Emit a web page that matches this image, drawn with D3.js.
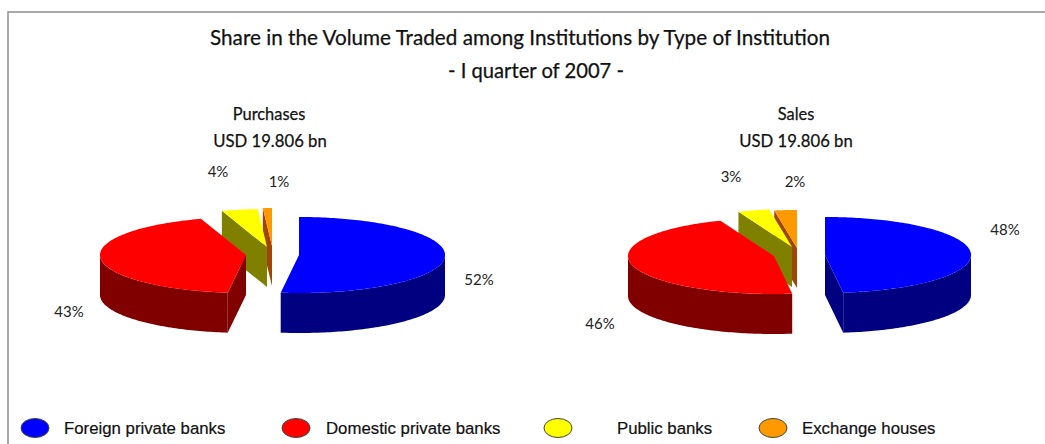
<!DOCTYPE html>
<html>
<head>
<meta charset="utf-8">
<script src="https://cdn.jsdelivr.net/npm/d3@7"></script>
<style>
  html, body { margin: 0; padding: 0; background: #fff; }
  svg { display: block; }
  .head { font-family: Lato, sans-serif; fill: #111; stroke: #111; stroke-width: 0.25px; text-anchor: middle; }
  .pct { font-family: Lato, sans-serif; font-size: 15px; fill: #222; text-anchor: middle; }
  .legend { font-family: "Liberation Sans", Arial, sans-serif; font-size: 16.8px; fill: #111; stroke: #111; stroke-width: 0.2px; }
</style>
</head>
<body>
<div id="chart"></div>
<script>
const categories = ["Foreign private banks", "Domestic private banks", "Public banks", "Exchange houses"]
const purchases = [52, 43, 4, 1]
// the sales labels add up to 99, so the small slices carry the leftover
const sales = [48.01, 46.01, 3.49, 2.49]
const colors = ["#0000ff", "#ff0000", "#ffff00", "#ff9900"]
const sideColors = ["#000080", "#800000", "#808000", "#a0450a"]

const width = 1045
const height = 444
const rx = 146
const ry = 38
const depth = 40

const svg = d3.select("#chart").append("svg")
  .attr("width", width)
  .attr("height", height)

// Frame, only top and left sides show
svg.append("path")
  .attr("d", "M8,444V12H1045")
  .attr("fill", "none")
  .attr("stroke", "#8c8c8c")
  .attr("stroke-width", 1.5)

function addHead(text, x, y, size) {
  svg.append("text").attr("class", "head")
    .attr("x", x).attr("y", y)
    .attr("font-size", size)
    .text(text)
}

addHead("Share in the Volume Traded among Institutions by Type of Institution", 520, 45, 20.7)
addHead("- I quarter of 2007 -", 536, 78, 20.2)

const line = d3.line()

function drawPie(values, apexes, labelSpots) {
  const slices = d3.pie().sort(null)(values)

  const at = (i, angle, drop = 0) => [
    apexes[i][0] + rx * Math.sin(angle),
    apexes[i][1] - ry * Math.cos(angle) + drop
  ]
  const arcPoints = (i, a0, a1, drop = 0) => {
    const n = Math.max(2, Math.ceil((a1 - a0) / 0.02))
    return d3.range(n + 1).map(k => at(i, a0 + (a1 - a0) * k / n, drop))
  }

  // back to front: orange, yellow, then the two big slices
  d3.range(slices.length).reverse().forEach(i => {
    const { startAngle: a0, endAngle: a1 } = slices[i]
    const apex = apexes[i]
    const low = [apex[0], apex[1] + depth]
    const g = svg.append("g")

    // cut faces, only those turned towards the viewer
    const cuts = []
    if (Math.sin(a0) < 0) cuts.push(a0)
    if (Math.sin(a1) > 0) cuts.push(a1)
    cuts.forEach(a => {
      g.append("path")
        .attr("d", line([apex, at(i, a), at(i, a, depth), low]) + "Z")
        .attr("fill", sideColors[i])
    })

    // outer wall, front half of the rim only
    const w0 = Math.max(a0, Math.PI / 2)
    const w1 = Math.min(a1, Math.PI * 1.5)
    if (w1 > w0) {
      const rim = arcPoints(i, w0, w1)
      const rimLow = arcPoints(i, w0, w1, depth).reverse()
      g.append("path")
        .attr("d", line(rim.concat(rimLow)) + "Z")
        .attr("fill", sideColors[i])
    }

    // top face
    g.append("path")
      .attr("d", line([apex].concat(arcPoints(i, a0, a1))) + "Z")
      .attr("fill", colors[i])
  })

  labelSpots.forEach((spot, i) => {
    svg.append("text").attr("class", "pct")
      .attr("x", spot[0]).attr("y", spot[1])
      .text(Math.round(values[i]) + "%")
  })
}

drawPie(purchases,
  [[299, 255], [246, 255], [267, 247], [272, 246]],
  [[479, 285], [69, 317], [218, 177], [279, 187]])
drawPie(sales,
  [[825, 255], [774, 256], [792, 247], [797, 248]],
  [[1005, 235], [600, 329], [731, 182], [795, 187]])

addHead("Purchases", 269, 120, 16.4)
addHead("USD 19.806 bn", 270, 147, 16.7)
addHead("Sales", 796, 120, 16.4)
addHead("USD 19.806 bn", 796, 147, 16.7)

// Legend
const legendX = [35, 296, 558, 773]
const legendTextX = [64, 326, 617, 802]
categories.forEach((name, i) => {
  svg.append("ellipse")
    .attr("cx", legendX[i]).attr("cy", 428)
    .attr("rx", 14).attr("ry", 9.5)
    .attr("fill", colors[i])
    .attr("stroke", "#444")
  svg.append("text").attr("class", "legend")
    .attr("x", legendTextX[i]).attr("y", 434)
    .text(name)
})
</script>
</body>
</html>
